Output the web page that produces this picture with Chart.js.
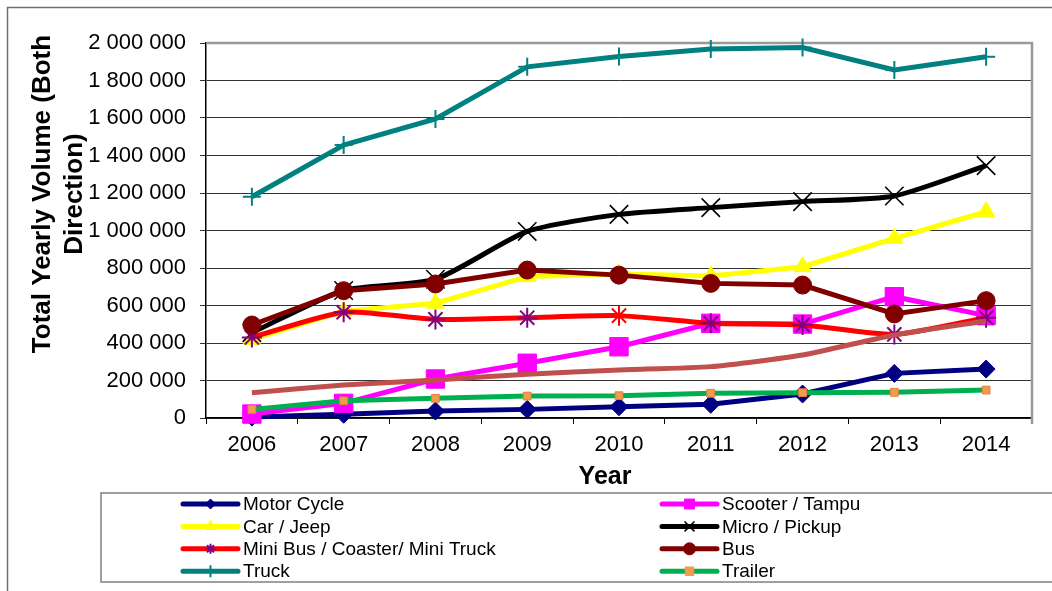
<!DOCTYPE html>
<html><head><meta charset="utf-8">
<script src="https://cdn.jsdelivr.net/npm/chart.js@4/dist/chart.umd.min.js"></script>
<style>html,body{margin:0;padding:0;background:#fff;}canvas{display:block;}</style>
</head><body>
<canvas id="c" width="1052" height="591"></canvas>
<script>
// ---- data ----
const years = ['2006', '2007', '2008', '2009', '2010', '2011', '2012', '2013', '2014'];
const motorCycle   = [5000, 20000, 37000, 46000, 60000, 73000, 128000, 238000, 261000];
const scooterTampu = [21000, 78000, 208000, 292000, 380000, 505000, 501000, 647000, 546000];
const carJeep      = [420000, 570000, 612000, 754000, 768000, 757000, 807000, 958000, 1100000];
const microPickup  = [455000, 680000, 740000, 995000, 1086000, 1122000, 1154000, 1184000, 1346000];
const miniBus      = [430000, 564000, 526000, 535000, 546000, 505000, 496000, 446000, 535000];
const bus          = [496000, 679000, 715000, 789000, 762000, 718000, 709000, 555000, 626000];
const truck        = [1180000, 1456000, 1595000, 1873000, 1928000, 1968000, 1976000, 1856000, 1927000];
const trailer      = [46000, 92000, 105000, 117000, 119000, 132000, 135000, 137000, 149000];
const ninthSeries  = [135000, 176000, 203000, 233000, 256000, 274000, 336000, 443000, 517000];
const seriesLabels = ['Motor Cycle', 'Scooter / Tampu', 'Car / Jeep', 'Micro / Pickup',
  'Mini Bus / Coaster/ Mini Truck', 'Bus', 'Truck', 'Trailer'];
const yTickMin = 0, yTickMax = 2000000, yTickStep = 200000;
const xTitle = 'Year';
const yTitleLines = ['Total Yearly Volume (Both', 'Direction)'];

const FONT = "'Liberation Sans', Arial, sans-serif";
Chart.defaults.font.family = FONT;
Chart.defaults.color = '#000';

function fmt(v) { return String(v).replace(/\B(?=(\d{3})+(?!\d))/g, ' '); }

function ds(label, data, color, o) {
  return Object.assign({
    label: label, data: data, borderColor: color, backgroundColor: color,
    borderWidth: 5, fill: false, tension: 0, clip: false,
    pointBackgroundColor: color, pointBorderColor: color, pointBorderWidth: 1,
    pointRadius: 9, pointHoverRadius: 9
  }, o);
}

const datasets = [
  ds(seriesLabels[0], motorCycle, '#000080', {pointStyle: 'rectRot', pointRadius: 9, order: 8, lgR: 5}),
  ds(seriesLabels[1], scooterTampu, '#FF00FF', {pointStyle: 'rect', pointRadius: 13, order: 7, lgR: 7}),
  ds(seriesLabels[2], carJeep, '#FFFF00', {pointStyle: 'triangle', pointRadius: 10, order: 6, lgR: 6}),
  ds(seriesLabels[3], microPickup, '#000000', {pointStyle: 'crossRot', pointRadius: 13, pointBorderWidth: 1.6, tension: 0.22, order: 5, lgR: 7}),
  ds(seriesLabels[4], miniBus, '#FF0000', {pointStyle: 'star', pointRadius: 10, pointBorderWidth: 2,
     pointBorderColor: ['#800080','#800080','#800080','#800080','#FF0000','#800080','#800080','#800080','#800080'],
     tension: 0.2, order: 4, lgR: 5, lgMarker: '#800080'}),
  ds(seriesLabels[5], bus, '#800000', {pointStyle: 'circle', pointRadius: 9, order: 3, lgR: 6}),
  ds(seriesLabels[6], truck, '#008080', {pointStyle: 'cross', pointRadius: 9, pointBorderWidth: 2, order: 2, lgR: 6}),
  ds(seriesLabels[7], trailer, '#00B050', {pointStyle: 'rect', pointRadius: 5.5, pointBackgroundColor: '#F29A4E',
     pointBorderColor: '#E0823A', order: 1, lgR: 6, lgMarker: '#F29A4E'}),
  ds('', ninthSeries, '#C0504D', {pointRadius: 0, pointHoverRadius: 0, tension: 0.2, order: 0, noLegend: true})
];

const decor = {
  id: 'decor',
  beforeDraw(chart) {
    const c = chart.ctx;
    c.save();
    c.fillStyle = '#fff'; c.fillRect(0, 0, chart.width, chart.height);
    c.strokeStyle = '#6f6f6f'; c.lineWidth = 1.5;
    c.strokeRect(7.5, 7.5, 1200, 700);
    c.restore();
  },
  beforeDatasetsDraw(chart) {
    const a = chart.chartArea, c = chart.ctx;
    c.save();
    c.strokeStyle = '#999'; c.lineWidth = 2.5;
    c.beginPath();
    c.moveTo(a.left, a.top); c.lineTo(a.right, a.top); c.lineTo(a.right, a.bottom + 6);
    c.stroke();
    c.restore();
  },
  afterDraw(chart) {
    const c = chart.ctx;
    c.save();
    // axis titles
    c.fillStyle = '#000';
    c.font = 'bold 25px ' + FONT;
    c.textAlign = 'center'; c.textBaseline = 'middle';
    c.fillText(xTitle, 605, 477);
    c.font = 'bold 26px ' + FONT;
    const yc = 194;
    [43, 75].forEach((x, i) => {
      c.save(); c.translate(x, yc); c.rotate(-Math.PI / 2);
      c.fillText(yTitleLines[i], 0, 0); c.restore();
    });
    // legend box
    c.strokeStyle = '#808080'; c.lineWidth = 1.5;
    c.strokeRect(101, 493, 1000, 89);
    // legend entries
    const items = chart.data.datasets.filter(d => !d.noLegend);
    c.font = '19px ' + FONT;
    c.textAlign = 'left';
    items.forEach((d, i) => {
      const col = i % 2, row = Math.floor(i / 2);
      const x0 = col ? 662 : 183, x1 = x0 + 55, y = 504 + row * 22.4;
      c.strokeStyle = d.borderColor; c.lineWidth = 5; c.lineCap = 'round';
      c.beginPath(); c.moveTo(x0, y); c.lineTo(x1, y); c.stroke();
      const mc = d.lgMarker || d.borderColor;
      c.fillStyle = mc; c.strokeStyle = mc; c.lineWidth = d.pointBorderWidth || 1;
      c.lineCap = 'butt';
      if (Chart.helpers && Chart.helpers.drawPoint) {
        Chart.helpers.drawPoint(c, {pointStyle: d.pointStyle, radius: d.lgR, borderWidth: c.lineWidth, rotation: 0}, (x0 + x1) / 2, y);
      }
      c.fillStyle = '#000';
      c.textBaseline = 'middle';
      c.fillText(d.label, x1 + 5, y + 1);
    });
    c.restore();
  }
};

new Chart(document.getElementById('c'), {
  type: 'line',
  data: {labels: years, datasets: datasets},
  options: {
    responsive: false, animation: false, events: [],
    layout: {padding: {left: 0, top: 43, right: 20, bottom: 0}},
    plugins: {legend: {display: false}, tooltip: {enabled: false}, title: {display: false}},
    scales: {
      x: {
        type: 'category', offset: true,
        grid: {offset: true, drawOnChartArea: false, drawTicks: true, tickLength: 6, color: '#000'},
        border: {color: '#000', width: 1.5},
        ticks: {font: {size: 22}, color: '#000', padding: 8, maxRotation: 0, autoSkip: false},
        afterFit(s) { s.height = 173; }
      },
      y: {
        min: yTickMin, max: yTickMax,
        ticks: {stepSize: yTickStep, callback: v => fmt(v), font: {size: 22}, color: '#000', padding: 14},
        grid: {color: '#333', lineWidth: 1, tickLength: 6, drawTicks: true},
        border: {color: '#000', width: 1.5},
        afterFit(s) { s.width = 206; }
      }
    }
  },
  plugins: [decor]
});
</script>
</body></html>
